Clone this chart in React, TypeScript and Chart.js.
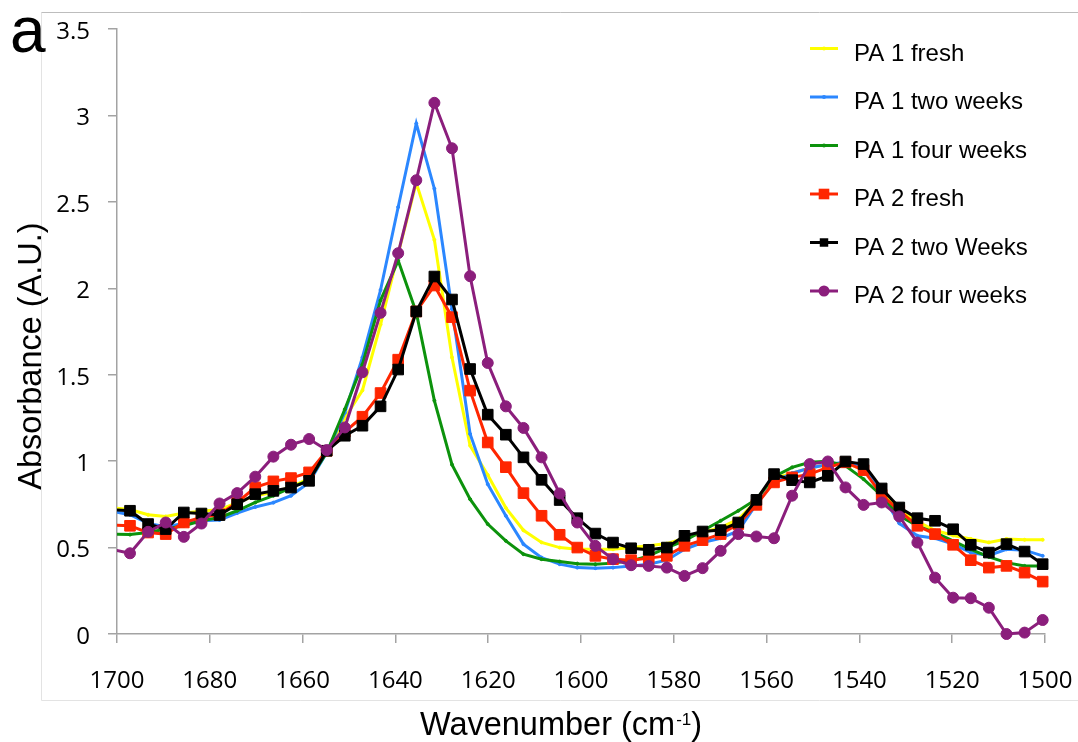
import { useEffect, useRef } from 'react';
import { Chart, registerables } from 'chart.js';

Chart.register(...registerables);

// Wavenumbers (cm-1); first point lies just outside the axis and is clipped
const waveNumbers = [
  1701.1, 1697.2, 1693.3, 1689.5, 1685.6, 1681.8, 1677.9, 1674.1, 1670.2, 1666.3,
  1662.5, 1658.6, 1654.8, 1650.9, 1647.1, 1643.2, 1639.4, 1635.5, 1631.6, 1627.8,
  1623.9, 1620.1, 1616.2, 1612.4, 1608.5, 1604.6, 1600.8, 1596.9, 1593.1, 1589.2,
  1585.4, 1581.5, 1577.7, 1573.8, 1569.9, 1566.1, 1562.2, 1558.4, 1554.5, 1550.7,
  1546.8, 1543.0, 1539.1, 1535.2, 1531.4, 1527.5, 1523.7, 1519.8, 1516.0, 1512.1,
  1508.3, 1504.4, 1500.5,
];

const pa1Fresh = [
  0.73, 0.72, 0.69, 0.68, 0.70, 0.71, 0.72, 0.76, 0.80, 0.82, 0.85, 0.90, 1.05, 1.25,
  1.41, 1.79, 2.20, 2.61, 2.28, 1.60, 1.09, 0.92, 0.73, 0.60, 0.53, 0.50, 0.49, 0.49,
  0.49, 0.50, 0.51, 0.523, 0.554, 0.587, 0.616, 0.664, 0.77, 0.90, 0.93, 0.96, 0.98,
  0.99, 0.95, 0.83, 0.72, 0.65, 0.60, 0.57, 0.55, 0.53, 0.55, 0.545, 0.545,
];

const pa1TwoWeeks = [
  0.71, 0.69, 0.64, 0.62, 0.64, 0.655, 0.66, 0.70, 0.735, 0.76, 0.80, 0.877, 1.05, 1.28,
  1.60, 1.99, 2.47, 2.953, 2.576, 1.88, 1.157, 0.867, 0.684, 0.52, 0.442, 0.404, 0.384,
  0.381, 0.384, 0.394, 0.404, 0.427, 0.49, 0.529, 0.554, 0.597, 0.751, 0.88, 0.93, 0.96,
  0.98, 0.995, 0.964, 0.81, 0.64, 0.568, 0.554, 0.52, 0.471, 0.455, 0.49, 0.485, 0.452,
];

const pa1FourWeeks = [
  0.578, 0.575, 0.587, 0.607, 0.626, 0.655, 0.674, 0.713, 0.761, 0.80, 0.847, 0.89, 1.05,
  1.30, 1.56, 1.93, 2.16, 1.86, 1.35, 0.98, 0.78, 0.636, 0.539, 0.462, 0.433, 0.419, 0.407,
  0.404, 0.41, 0.423, 0.452, 0.50, 0.539, 0.597, 0.655, 0.713, 0.78, 0.91, 0.964, 0.993,
  1.0, 0.973, 0.896, 0.80, 0.684, 0.626, 0.587, 0.539, 0.49, 0.446, 0.413, 0.394, 0.394,
];

const pa2Fresh = [
  0.63, 0.626, 0.587, 0.578, 0.645, 0.674, 0.693, 0.761, 0.848, 0.883, 0.902, 0.935, 1.06,
  1.17, 1.257, 1.394, 1.587, 1.866, 2.016, 1.833, 1.408, 1.108, 0.965, 0.815, 0.684, 0.574,
  0.50, 0.452, 0.433, 0.427, 0.439, 0.452, 0.51, 0.543, 0.578, 0.636, 0.747, 0.877, 0.906,
  0.925, 0.964, 0.993, 0.948, 0.805, 0.713, 0.626, 0.578, 0.516, 0.427, 0.384, 0.394, 0.355,
  0.303,
];

const pa2TwoWeeks = [
  0.72, 0.713, 0.636, 0.607, 0.703, 0.697, 0.688, 0.751, 0.809, 0.828, 0.847, 0.886, 1.06,
  1.147, 1.205, 1.317, 1.53, 1.866, 2.068, 1.935, 1.533, 1.269, 1.153, 1.022, 0.892, 0.775,
  0.67, 0.581, 0.529, 0.496, 0.487, 0.50, 0.568, 0.593, 0.601, 0.645, 0.776, 0.925, 0.89,
  0.877, 0.915, 0.998, 0.983, 0.842, 0.732, 0.67, 0.655, 0.606, 0.516, 0.471, 0.52, 0.477,
  0.404,
];

const pa2FourWeeks = [
  0.49, 0.467, 0.591, 0.645, 0.562, 0.639, 0.755, 0.815, 0.91, 1.026, 1.095, 1.128, 1.064,
  1.195, 1.514, 1.858, 2.203, 2.625, 3.073, 2.81, 2.07, 1.568, 1.317, 1.192, 1.022, 0.813,
  0.645, 0.51, 0.433, 0.398, 0.394, 0.384, 0.336, 0.381, 0.481, 0.578, 0.564, 0.554, 0.80,
  0.983, 0.998, 0.848, 0.747, 0.761, 0.68, 0.529, 0.326, 0.21, 0.207, 0.152, 0.0, 0.008,
  0.081,
];

const seriesLabels = [
  'PA 1 fresh',
  'PA 1 two weeks',
  'PA 1 four weeks',
  'PA 2 fresh',
  'PA 2 two Weeks',
  'PA 2 four weeks',
];
const seriesValues = [pa1Fresh, pa1TwoWeeks, pa1FourWeeks, pa2Fresh, pa2TwoWeeks, pa2FourWeeks];
const seriesColors = ['#ffff00', '#2b87ff', '#0c920c', '#ff2600', '#000000', '#8b1e7c'];
const seriesMarkers = ['circle', 'circle', 'circle', 'rect', 'rect', 'circle'];
const seriesRadius = [1.5, 1.5, 1.5, 7.5, 7.5, 5.5];
const legendRadius = [2, 2, 2, 7.5, 6, 5.5];

const xTickStep = 20;
const yTickStep = 0.5;

const LABEL_FONT = '"Liberation Sans", Arial, Helvetica, sans-serif';
const TICK_FONT = '"Open Sans", sans-serif';

function drawMarker(ctx: CanvasRenderingContext2D, style: string, x: number, y: number, r: number, color: string) {
  ctx.fillStyle = color;
  ctx.beginPath();
  if (style === 'rect') {
    const s = Math.SQRT1_2 * r;
    ctx.rect(x - s, y - s, 2 * s, 2 * s);
  } else {
    ctx.arc(x, y, r, 0, Math.PI * 2);
  }
  ctx.fill();
}

const overlayPlugin = {
  id: 'overlay',
  beforeDraw(chart: any) {
    const ctx = chart.ctx as CanvasRenderingContext2D;
    ctx.save();
    ctx.fillStyle = '#ffffff';
    ctx.fillRect(0, 0, chart.width, chart.height);
    ctx.lineWidth = 1;
    ctx.strokeStyle = '#e3e3e3';
    ctx.beginPath();
    ctx.moveTo(41.5, 12.5);
    ctx.lineTo(41.5, 700.5);
    ctx.lineTo(chart.width + 2, 700.5);
    ctx.stroke();
    ctx.strokeStyle = '#bdbdbd';
    ctx.beginPath();
    ctx.moveTo(41.5, 12.5);
    ctx.lineTo(chart.width + 2, 12.5);
    ctx.stroke();
    ctx.restore();
  },
  afterDraw(chart: any) {
    const ctx = chart.ctx as CanvasRenderingContext2D;
    ctx.save();
    ctx.fillStyle = '#000';

    // panel letter
    ctx.font = `64px ${LABEL_FONT}`;
    ctx.textAlign = 'left';
    ctx.textBaseline = 'alphabetic';
    ctx.fillText('a', 10, 52);

    // y title
    ctx.save();
    ctx.translate(41, 356);
    ctx.rotate(-Math.PI / 2);
    ctx.font = `32.5px ${LABEL_FONT}`;
    ctx.textAlign = 'center';
    ctx.fillText('Absorbance (A.U.)', 0, 0);
    ctx.restore();

    // x title with superscript
    const main1 = 'Wavenumber (cm';
    const sup = '-1';
    const main2 = ')';
    ctx.font = `32.5px ${LABEL_FONT}`;
    const w1 = ctx.measureText(main1).width;
    const w3 = ctx.measureText(main2).width;
    ctx.font = `17px ${LABEL_FONT}`;
    const w2 = ctx.measureText(sup).width;
    const total = w1 + w2 + w3 + 1;
    const x0 = 561 - total / 2;
    const base = 735;
    ctx.textAlign = 'left';
    ctx.font = `32.5px ${LABEL_FONT}`;
    ctx.fillText(main1, x0, base);
    ctx.font = `17px ${LABEL_FONT}`;
    ctx.fillText(sup, x0 + w1 + 1, base - 10);
    ctx.font = `32.5px ${LABEL_FONT}`;
    ctx.fillText(main2, x0 + w1 + w2 + 1, base);

    // legend
    const ds = chart.data.datasets;
    ctx.font = `24px ${LABEL_FONT}`;
    for (let i = 0; i < ds.length; i++) {
      const y = 48.5 + i * 48.5;
      const color = ds[i].borderColor;
      ctx.strokeStyle = color;
      ctx.lineWidth = 3;
      ctx.beginPath();
      ctx.moveTo(810, y);
      ctx.lineTo(838, y);
      ctx.stroke();
      drawMarker(ctx, seriesMarkers[i], 824, y, legendRadius[i], color);
      ctx.fillStyle = '#000';
      ctx.textAlign = 'left';
      ctx.textBaseline = 'alphabetic';
      ctx.fillText(ds[i].label, 854, y + 12);
    }
    ctx.restore();
  },
};

export default function App() {
  const ref = useRef<HTMLCanvasElement | null>(null);

  useEffect(() => {
    document.body.style.margin = '0';
    const canvas = ref.current;
    if (!canvas) return;

    const datasets = seriesValues.map((vals, i) => ({
      label: seriesLabels[i],
      data: vals.map((v, j) => ({ x: waveNumbers[j], y: v })),
      borderColor: seriesColors[i],
      backgroundColor: seriesColors[i],
      borderWidth: 3,
      pointStyle: seriesMarkers[i],
      pointRadius: (c: any) => (c.dataIndex === 0 ? 0 : seriesRadius[i]),
      pointBorderWidth: 1,
      pointBorderColor: seriesColors[i],
      pointHoverRadius: 0,
      tension: 0,
      order: 6 - i,
      clip: { left: 0, right: false, top: false, bottom: false },
    }));

    const chart = new Chart(canvas, {
      type: 'line',
      data: { datasets } as any,
      options: {
        responsive: false,
        animation: false,
        events: [],
        layout: { padding: { left: 0, right: 33, top: 29, bottom: 0 } },
        plugins: { legend: { display: false }, tooltip: { enabled: false } },
        scales: {
          x: {
            type: 'linear',
            reverse: true,
            min: 1500,
            max: 1700,
            ticks: {
              stepSize: xTickStep,
              callback: (v: any) => String(v),
              font: { family: TICK_FONT, size: 24 },
              color: '#000',
              padding: 24,
              maxRotation: 0,
              autoSkip: false,
            },
            grid: { drawOnChartArea: false, drawTicks: true, tickLength: 9, color: '#a3a3a3', lineWidth: 1.5 },
            border: { color: '#a3a3a3', width: 1.5 },
            afterFit: (s: any) => {
              s.height = 108;
              s.paddingLeft = 0;
              s.paddingRight = 0;
            },
          },
          y: {
            type: 'linear',
            min: 0,
            max: 3.5,
            ticks: {
              stepSize: yTickStep,
              callback: (v: any) => String(v),
              font: { family: TICK_FONT, size: 24 },
              color: '#000',
              padding: 18,
              labelOffset: 3,
            },
            grid: { drawOnChartArea: false, drawTicks: true, tickLength: 9, color: '#a3a3a3', lineWidth: 1.5 },
            border: { color: '#a3a3a3', width: 1.5 },
            afterFit: (s: any) => {
              s.width = 117;
              s.paddingTop = 0;
              s.paddingBottom = 0;
            },
          },
        },
      } as any,
      plugins: [overlayPlugin],
    });

    return () => chart.destroy();
  }, []);

  return <canvas ref={ref} width={1078} height={742} style={{ display: 'block' }} />;
}
